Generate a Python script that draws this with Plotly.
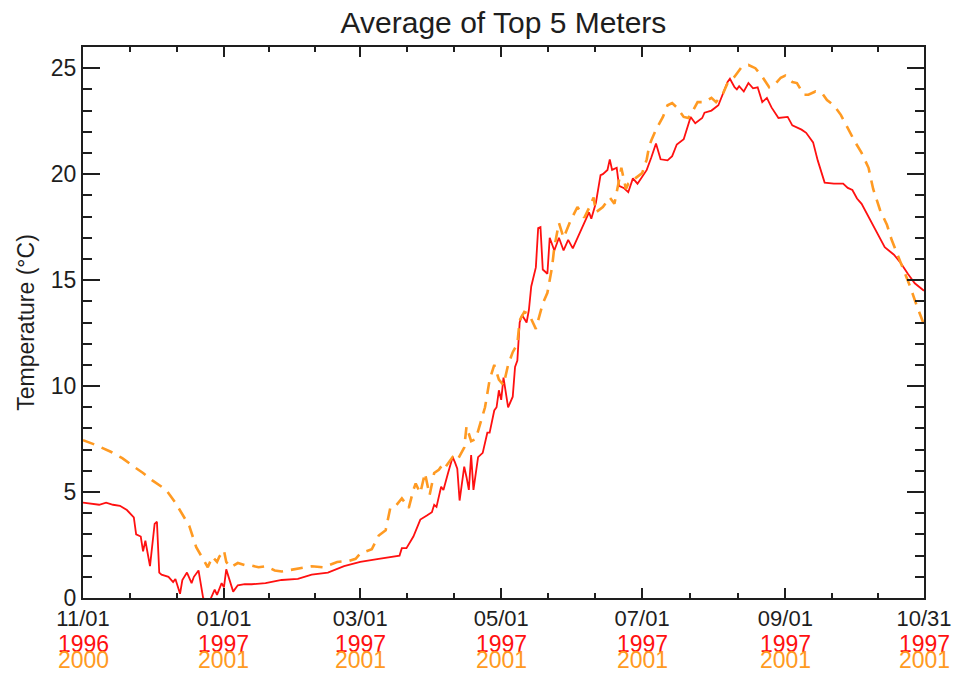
import plotly.graph_objects as go

# ---- data (day offset from 11/01, temperature in deg C) ----
red_days = [0, 3, 7, 10, 13, 16, 19, 22, 23, 25, 26, 27, 29, 31, 32, 33, 34, 37, 39, 40, 42, 43, 45, 47, 48,
            50, 51, 52, 53, 55, 57, 58, 60, 61, 62, 64, 65, 67, 70, 73, 79, 86, 93, 99, 106, 113, 120, 128,
            135, 137, 138, 140, 143, 146, 149, 151, 152, 153, 155, 156, 158, 160, 161, 162, 163, 165, 166,
            167, 168, 169, 171, 173, 175, 176, 178, 179, 180, 181, 182, 183, 184, 186, 187, 188, 189, 190,
            192, 193, 194, 196, 197, 198, 199, 201, 202, 204, 206, 208, 210, 212, 214, 216, 219, 220, 222,
            224, 225, 227, 228, 229, 231, 232, 234, 236, 238, 240, 242, 244, 246, 247, 248, 250, 253, 255,
            257, 260, 261, 263, 265, 268, 269, 272, 275, 277, 279, 280, 282, 283, 284, 286, 288, 290, 292,
            294, 296, 298, 301, 305, 307, 311, 313, 316, 318, 321, 325, 329, 331, 333, 335, 337, 339, 342,
            344, 347, 351, 354, 357, 360, 364]
red_temp = [4.5, 4.45, 4.4, 4.5, 4.4, 4.35, 4.15, 3.8, 3.0, 2.9, 2.2, 2.7, 1.5, 3.5, 3.6, 1.2, 1.1, 1.0, 0.75,
            0.9, 0.2, 0.85, 1.2, 0.7, 1.0, 1.3, 0.7, 0.0, -0.1, -0.1, 0.4, 0.15, 0.7, 0.5, 1.35, 0.7, 0.3,
            0.6, 0.65, 0.65, 0.7, 0.85, 0.9, 1.1, 1.2, 1.5, 1.7, 1.85, 1.95, 2.0, 2.35, 2.35, 2.9, 3.7, 3.9,
            4.05, 4.4, 4.3, 5.25, 5.1, 5.9, 6.65, 6.4, 6.1, 4.6, 6.2, 5.7, 5.1, 6.75, 5.1, 6.65, 6.85, 7.8,
            7.8, 8.85, 9.0, 9.8, 9.35, 10.4, 9.7, 9.0, 9.5, 10.9, 11.2, 13.0, 13.35, 13.0, 13.6, 14.7, 15.6,
            17.45, 17.5, 15.5, 15.3, 17.0, 16.4, 17.0, 16.4, 16.9, 16.5, 17.0, 17.5, 18.2, 17.9, 18.65,
            19.95, 20.0, 20.2, 20.7, 20.2, 20.3, 19.45, 19.35, 19.15, 19.8, 19.55, 19.85, 20.2, 20.8, 21.1,
            21.45, 20.7, 20.65, 20.85, 21.4, 21.65, 22.0, 22.7, 22.4, 22.65, 22.9, 23.0, 23.25, 23.8, 24.35,
            24.5, 24.1, 24.0, 24.15, 23.9, 24.3, 24.05, 24.1, 23.4, 23.6, 23.15, 22.65, 22.7, 22.3, 22.1,
            21.95, 21.5, 20.65, 19.6, 19.55, 19.55, 19.35, 19.25, 18.85, 18.6, 18.2, 17.6, 17.15, 16.55,
            16.2, 15.8, 15.3, 14.85, 14.5]

orange_days = [0, 6, 12, 17, 22, 26, 30, 36, 40, 44, 46, 49, 52, 54, 56, 58, 59, 61, 62, 64, 67, 70, 72, 76,
               79, 83, 86, 89, 93, 99, 104, 110, 115, 118, 120, 125, 128, 131, 133, 135, 138, 141, 143, 144,
               146, 148, 150, 152, 154, 156, 157, 160, 162, 165, 166, 168, 170, 172, 174, 176, 178, 180, 182,
               184, 186, 188, 189, 191, 193, 196, 199, 201, 203, 204, 206, 208, 211, 214, 217, 219, 221, 222,
               225, 228, 230, 232, 233, 235, 236, 239, 242, 244, 245, 246, 248, 251, 253, 255, 257, 260, 262,
               264, 266, 269, 272, 274, 277, 279, 282, 285, 288, 291, 294, 297, 300, 302, 304, 307, 309, 312,
               314, 317, 320, 322, 325, 328, 331, 334, 337, 340, 342, 345, 348, 350, 354, 358, 361, 364]
orange_temp = [7.45, 7.2, 6.9, 6.6, 6.2, 5.9, 5.55, 5.1, 4.5, 3.8, 3.4, 2.4, 1.8, 1.45, 1.95, 1.7, 1.95, 2.25,
               1.7, 1.45, 1.65, 1.55, 1.55, 1.45, 1.5, 1.3, 1.25, 1.3, 1.4, 1.5, 1.45, 1.7, 1.75, 1.85, 2.1,
               2.3, 2.95, 3.2, 4.25, 4.3, 4.7, 4.25, 5.1, 5.4, 4.95, 5.9, 4.85, 5.9, 6.05, 6.35, 6.2, 6.65,
               6.5, 7.1, 8.1, 7.4, 7.5, 8.2, 9.0, 10.3, 11.0, 10.3, 10.05, 11.0, 11.6, 12.0, 13.1, 13.5, 13.4,
               12.7, 13.9, 14.4, 15.6, 16.55, 17.7, 17.0, 17.8, 18.45, 17.95, 18.4, 18.9, 18.2, 18.45, 18.9,
               18.6, 19.7, 20.3, 19.3, 19.55, 19.8, 20.05, 20.7, 21.3, 21.6, 22.1, 22.7, 23.25, 23.35, 23.15,
               22.7, 22.65, 23.0, 23.4, 23.4, 23.6, 23.4, 23.8, 24.3, 24.6, 25.05, 25.15, 25.0, 24.6, 24.1,
               24.3, 24.55, 24.65, 24.35, 24.3, 23.75, 23.75, 23.9, 23.8, 23.5, 23.25, 22.8, 22.15, 21.55,
               21.0, 20.3, 19.3, 18.3, 17.6, 16.9, 15.8, 14.7, 13.75, 12.9]

tick_days = [0, 61, 120, 181, 242, 304, 364]
tick_dates = ["11/01", "01/01", "03/01", "05/01", "07/01", "09/01", "10/31"]
years_a = ["1996", "1997", "1997", "1997", "1997", "1997", "1997"]
years_b = ["2000", "2001", "2001", "2001", "2001", "2001", "2001"]
y_ticks = [0, 5, 10, 15, 20, 25]

RED = "#FF1010"
ORANGE = "#FF9A22"
DARK = "#1e1e1e"
FONT = "Liberation Sans, Arial, sans-serif"

# minor x ticks: two evenly spaced between consecutive majors
minor_x = []
for a, b in zip(tick_days[:-1], tick_days[1:]):
    minor_x += [a + (b - a) / 3.0, a + 2 * (b - a) / 3.0]

fig = go.Figure()
fig.add_trace(go.Scatter(x=red_days, y=red_temp, mode="lines",
                         line=dict(color=RED, width=1.8), showlegend=False))
fig.add_trace(go.Scatter(x=orange_days, y=orange_temp, mode="lines",
                         line=dict(color=ORANGE, width=2.6, dash="12px,8px"), showlegend=False))

ann = []
for d, ya in zip(tick_days, years_a):
    ann.append(dict(x=d, xref="x", y=-0.083, yref="paper", text=ya, showarrow=False,
                    xanchor="center", yanchor="middle", font=dict(family=FONT, size=23, color=RED)))
for d, yb in zip(tick_days, years_b):
    ann.append(dict(x=d, xref="x", y=-0.1125, yref="paper", text=yb, showarrow=False,
                    xanchor="center", yanchor="middle", font=dict(family=FONT, size=23, color=ORANGE)))

fig.update_layout(
    width=964, height=680,
    margin=dict(l=83, r=34, t=47, b=82),
    paper_bgcolor="white", plot_bgcolor="white",
    font=dict(family=FONT, size=22, color=DARK),
    title=dict(text="Average of Top 5 Meters", x=0.5, xref="paper", xanchor="center",
               y=0.967, yref="container", yanchor="middle",
               font=dict(family=FONT, size=30, color=DARK)),
    annotations=ann,
)
fig.update_xaxes(
    range=[0, 364], showgrid=False, zeroline=False,
    showline=True, linecolor=DARK, linewidth=2, mirror="allticks",
    tickmode="array", tickvals=tick_days, ticktext=tick_dates,
    ticks="inside", ticklen=10, tickwidth=2, tickcolor=DARK,
    tickfont=dict(family=FONT, size=22, color=DARK),
    minor=dict(tickmode="array", tickvals=minor_x, ticks="inside", ticklen=5, tickwidth=2,
               tickcolor=DARK, showgrid=False),
)
fig.update_yaxes(
    range=[0, 26], showgrid=False, zeroline=False,
    showline=True, linecolor=DARK, linewidth=2, mirror="allticks",
    tickmode="array", tickvals=y_ticks,
    ticks="inside", ticklen=17, tickwidth=2, tickcolor=DARK,
    tickfont=dict(family=FONT, size=23, color=DARK),
    minor=dict(tickmode="linear", tick0=0, dtick=1, ticks="inside", ticklen=9, tickwidth=2,
               tickcolor=DARK, showgrid=False),
    title=dict(text="Temperature (°C)", standoff=10, font=dict(family=FONT, size=23, color=DARK)),
)

fig.write_html("out.html")
